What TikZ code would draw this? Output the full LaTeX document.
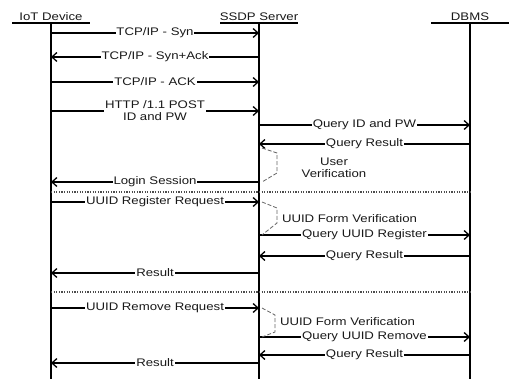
\documentclass[tikz,border=0pt]{standalone}
\usepackage{fontspec}
\setmainfont{Liberation Sans}[FakeStretch=1.2]
\usepackage{tikz}
\usetikzlibrary{arrows.meta,positioning}

\begin{document}
\begin{tikzpicture}[x=1pt,y=-1pt,
	life/.style={line width=1.8pt},
	head/.style={line width=1.3pt},
	msg/.style={line width=1.3pt,-{Straight Barb[length=5pt,width=9pt,line width=1.3pt]}},
	lbl/.style={fill=white,inner sep=0.8pt,font=\fontsize{11}{12}\selectfont,text=black!90},
	check/.style={black!60,line width=0.8pt,dash pattern=on 4pt off 2pt},
	sep/.style={black!70,line width=1.2pt,dash pattern=on 1.2pt off 1.4pt}]
	\useasboundingbox (0,0) rectangle (511,379);
	\coordinate (iot) at (51,23);
	\coordinate (ssdp) at (259,23);
	\coordinate (dbms) at (470,23);
	\node[lbl,above=1.5pt of iot] (iotname) {IoT Device};
	\node[lbl,above=1.5pt of ssdp] (ssdpname) {SSDP Server};
	\node[lbl,above=1.5pt of dbms] (dbmsname) {DBMS};
	\foreach \p in {iot,ssdp,dbms}{
		\draw[head] ([xshift=-39pt]\p) -- ([xshift=39pt]\p);
		\draw[life] (\p) -- (\p |- 0,379);
	}
	\foreach \y/\a/\b/\t in {33/iot/ssdp/{TCP/IP - Syn}, 57/ssdp/iot/{TCP/IP - Syn+Ack}, 82/iot/ssdp/{TCP/IP - ACK},
		125/ssdp/dbms/{Query ID and PW}, 144/dbms/ssdp/{Query Result}, 182/ssdp/iot/{Login Session},
		202/iot/ssdp/{UUID Register Request}, 235/ssdp/dbms/{Query UUID Register}, 256/dbms/ssdp/{Query Result},
		273/ssdp/iot/{Result}, 308/iot/ssdp/{UUID Remove Request}, 337/ssdp/dbms/{Query UUID Remove},
		355/dbms/ssdp/{Query Result}, 363/ssdp/iot/{Result}}
		\draw[msg] (\a |- 0,\y) -- node[lbl] {\t} (\b |- 0,\y);
	\draw[msg] (iot |- 0,111) -- node[lbl,align=center] (post) {HTTP /1.1 POST\\ID and PW} (ssdp |- 0,111);
	% verification steps on the server
	\draw[check] ([xshift=3pt]ssdp |- 0,148) -- ++(15,5) -- ++(0,20) -- ++(-15,9);
	\node[lbl,fill=none,align=center] (userver) at (334,168) {User\\Verification};
	\draw[check] ([xshift=3pt]ssdp |- 0,202) -- ++(15,6) -- ++(0,15) -- ++(-15,12);
	\node[lbl,fill=none,anchor=west] (regver) at (281,219) {UUID Form Verification};
	\draw[check] ([xshift=3pt]ssdp |- 0,308) -- ++(13,7) -- ++(0,17) -- ++(-13,5);
	\node[lbl,fill=none,anchor=west] (remver) at (279,322) {UUID Form Verification};
	% session separators
	\draw[sep] (iot |- 0,192) -- (dbms |- 0,192);
	\draw[sep] (iot |- 0,292) -- (dbms |- 0,292);
\end{tikzpicture}
\end{document}
